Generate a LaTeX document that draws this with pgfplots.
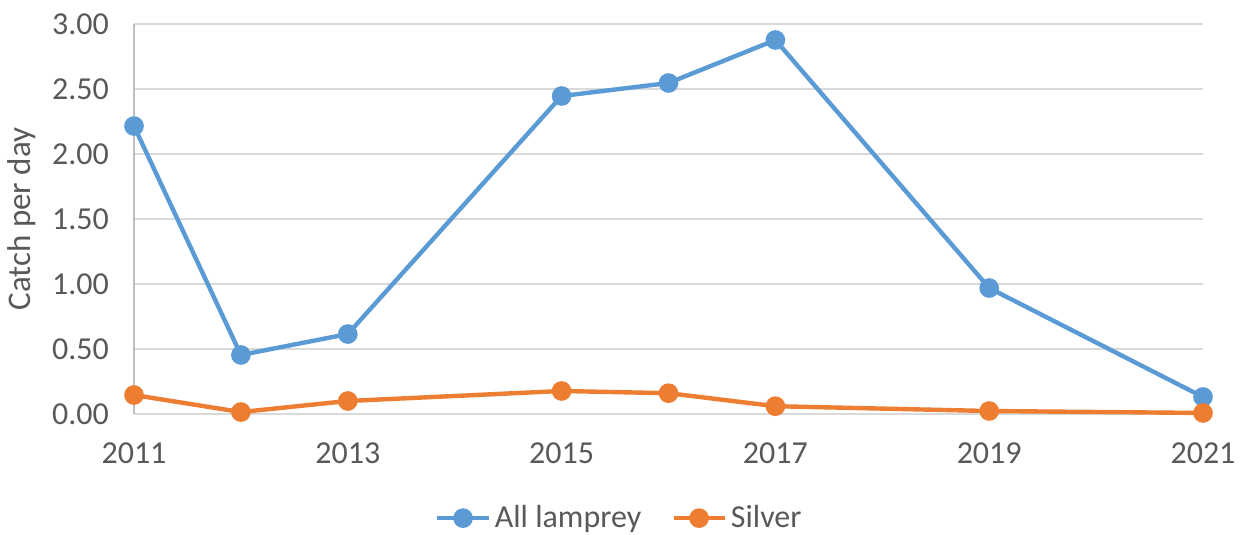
\documentclass[border=0pt]{standalone}
\usepackage{pgfplots}
\pgfplotsset{compat=1.18}
\usepackage{fontspec}
\setmainfont{Carlito}
\definecolor{lampblue}{HTML}{5B9BD5}
\definecolor{silvorange}{HTML}{ED7D31}
\definecolor{txtgray}{HTML}{595959}
\definecolor{gridgray}{HTML}{D9D9D9}
\definecolor{axgray}{HTML}{BFBFBF}

\begin{document}
\begin{tikzpicture}
\useasboundingbox (-67pt,-60.5pt) rectangle (556.5pt,207pt);
\begin{axis}[
    scale only axis,
    width=534.5pt,
    height=195pt,
    xmin=2011, xmax=2021,
    ymin=0, ymax=3,
    xtick={2011,2013,2015,2017,2019,2021},
    ytick={0,0.5,1,1.5,2,2.5,3},
    xticklabel style={/pgf/number format/1000 sep={}, yshift=-11pt},
    yticklabel style={/pgf/number format/.cd, fixed, fixed zerofill, precision=2, /tikz/.cd, xshift=-9pt},
    /pgf/number format/assume math mode=true,
    tick label style={font=\fontsize{16}{18}\selectfont, text=txtgray},
    major tick length=0pt,
    ymajorgrids=true,
    grid style={draw=gridgray, line width=0.9pt},
    axis line style={draw=none},
    axis y line*=left,
    axis x line*=bottom,
    ylabel={Catch per day},
    every axis y label/.style={at={(rel axis cs:0,0.5)}, xshift=-56pt, rotate=90, anchor=center},
    ylabel style={font=\fontsize{16.5}{18}\selectfont, text=txtgray},
    clip=false,
    legend columns=2,
    legend style={at={(0.455,-0.267)}, anchor=center, draw=none, fill=none,
        font=\fontsize{16}{18}\selectfont, text=txtgray,
        /tikz/every even column/.append style={column sep=13pt}},
    legend image code/.code={
        \draw[#1, mark repeat=2, mark phase=2] plot coordinates {(0cm,0cm) (0.45cm,0cm) (0.9cm,0cm)};
    },
]
\draw[axgray, line width=0.9pt] (rel axis cs:0,0) -- (rel axis cs:0,1);
\addplot[color=lampblue, line width=2.2pt, mark=*, mark size=3.8pt, mark options={solid}] coordinates {
    (2011,2.215) (2012,0.454) (2013,0.615) (2015,2.446) (2016,2.546) (2017,2.877) (2019,0.969) (2021,0.131)
};
\addplot[color=silvorange, line width=2.2pt, mark=*, mark size=3.8pt, mark options={solid}] coordinates {
    (2011,0.146) (2012,0.015) (2013,0.100) (2015,0.177) (2016,0.160) (2017,0.060) (2019,0.023) (2021,0.008)
};
\legend{All lamprey, Silver}
\end{axis}
\end{tikzpicture}
\end{document}
